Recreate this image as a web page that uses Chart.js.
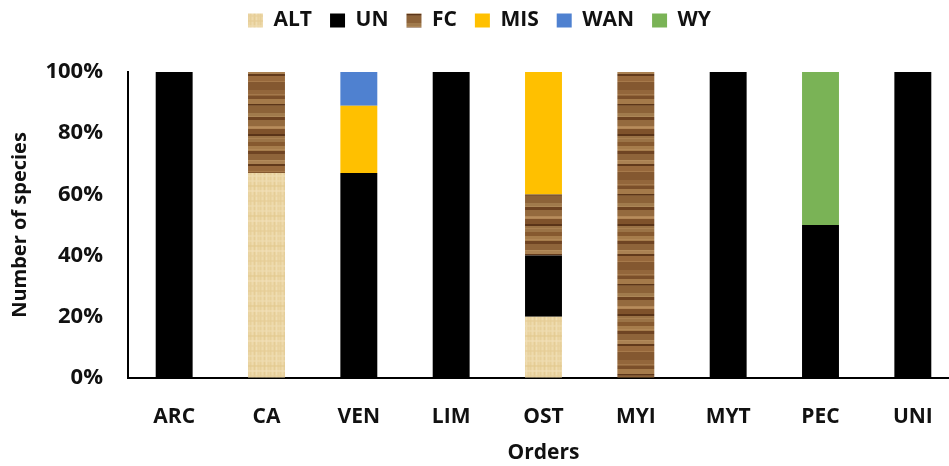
<!DOCTYPE html>
<html>
<head>
<meta charset="utf-8">
<script src="https://cdn.jsdelivr.net/npm/chart.js@4.4.1/dist/chart.umd.min.js"></script>
<style>
  html, body { margin: 0; padding: 0; background: #fff; overflow: hidden; }
  #wrap { width: 962px; height: 466px; }
</style>
</head>
<body>
<div id="wrap"><canvas id="myChart"></canvas></div>
<script>
const orders = ["ARC", "CA", "VEN", "LIM", "OST", "MYI", "MYT", "PEC", "UNI"];
const altValues = [0, 67, 0, 0, 20, 0, 0, 0, 0];
const unValues  = [100, 0, 67, 100, 20, 0, 100, 50, 100];
const fcValues  = [0, 33, 0, 0, 20, 100, 0, 0, 0];
const misValues = [0, 0, 22, 0, 40, 0, 0, 0, 0];
const wanValues = [0, 0, 11, 0, 0, 0, 0, 0, 0];
const wyValues  = [0, 0, 0, 0, 0, 0, 0, 50, 0];
const yTicks = [0, 20, 40, 60, 80, 100];

const FONT = "'Open Sans', sans-serif";
const TEXT = "#111";

// papyrus-like texture for ALT
function altPattern() {
    const c = document.createElement("canvas");
    c.width = 30; c.height = 30;
    const g = c.getContext("2d");
    g.fillStyle = "#ebd5a3";
    g.fillRect(0, 0, 30, 30);
    const cols = ["#e6cd96", "#efdcb0", "#e3c990", "#f1e0b8", "#e8d09c"];
    for (let i = 0; i < 30; i += 2) {
        g.fillStyle = cols[(i / 2) % cols.length];
        g.globalAlpha = 0.7;
        g.fillRect(i, 0, 1, 30);
    }
    for (let j = 0; j < 30; j += 5) {
        g.fillStyle = cols[(j / 5 + 1) % cols.length];
        g.globalAlpha = 0.6;
        g.fillRect(0, j, 30, 2);
    }
    g.globalAlpha = 1;
    return g.createPattern(c, "repeat");
}

// wood grain texture for FC
function fcPattern() {
    const bands = [
        ["#93663b", 6], ["#7b4f2a", 3], ["#a57a4a", 5], ["#5c3619", 2], ["#8c6238", 7],
        ["#a07a4c", 4], ["#6d4221", 3], ["#946a3e", 6], ["#b08555", 3], ["#7f522b", 5],
        ["#5a3418", 2], ["#9b7346", 6], ["#86592f", 4], ["#a67c4b", 5], ["#6f4423", 3],
        ["#8f643a", 6], ["#aa8152", 4], ["#623a1b", 2], ["#98693c", 6], ["#845830", 8]
    ];
    const h = bands.reduce((s, b) => s + b[1], 0);
    const c = document.createElement("canvas");
    c.width = 40; c.height = h;
    const g = c.getContext("2d");
    let y = 0;
    bands.forEach(b => {
        g.fillStyle = b[0];
        g.fillRect(0, y, 40, b[1]);
        y += b[1];
    });
    // faint lighter grain lines
    g.globalAlpha = 0.3;
    g.fillStyle = "#c9a170";
    for (let k = 4; k < h; k += 11) {
        g.fillRect(0, k, 40, 1);
    }
    g.globalAlpha = 1;
    return g.createPattern(c, "repeat");
}

function series(label, values, color) {
    return {
        label: label,
        data: values,
        backgroundColor: color,
        borderWidth: 0,
        categoryPercentage: 1.0,
        barPercentage: 0.4
    };
}

const chartData = {
    labels: orders,
    datasets: [
        series("ALT", altValues, altPattern()),
        series("UN", unValues, "#000000"),
        series("FC", fcValues, fcPattern()),
        series("MIS", misValues, "#ffc000"),
        series("WAN", wanValues, "#4f81d0"),
        series("WY", wyValues, "#7ab356")
    ]
};

// give the legend a fixed height so the plot starts where it does in the figure
const legendHeight = {
    id: "legendHeight",
    beforeLayout(chart) {
        const lg = chart.legend;
        if (lg && !lg._fixed) {
            const fit = lg.fit;
            lg.fit = function() {
                fit.call(this);
                this.height = 80;
            };
            lg._fixed = true;
        }
    }
};

const axisGrid = { display: true, drawOnChartArea: false, drawTicks: false, color: "rgba(0,0,0,0)" };

const ctx = document.getElementById("myChart").getContext("2d");
const chart = new Chart(ctx, {
    type: "bar",
    data: chartData,
    plugins: [legendHeight],
    options: {
        responsive: true,
        maintainAspectRatio: false,
        animation: false,
        layout: { padding: { top: -8, right: 3, left: 0, bottom: 0 } },
        plugins: {
            legend: {
                position: "top",
                labels: {
                    boxWidth: 15,
                    boxHeight: 14,
                    padding: 18,
                    color: TEXT,
                    font: { family: FONT, size: 21, weight: "bold" }
                }
            },
            tooltip: { enabled: false }
        },
        scales: {
            x: {
                stacked: true,
                afterFit: function(scale) { scale.height = 88; },
                grid: axisGrid,
                border: { display: true, color: "#000", width: 2 },
                ticks: {
                    color: TEXT,
                    padding: 26,
                    font: { family: FONT, size: 21, weight: "bold" }
                },
                title: {
                    display: true,
                    text: "Orders",
                    color: TEXT,
                    padding: { top: 0, bottom: 0 },
                    font: { family: FONT, size: 21, weight: "bold" }
                }
            },
            y: {
                stacked: true,
                min: 0,
                max: 100,
                afterFit: function(scale) { scale.width = 128; },
                afterBuildTicks: function(axis) {
                    axis.ticks = yTicks.map(v => ({ value: v }));
                },
                grid: axisGrid,
                border: { display: true, color: "#000", width: 2 },
                ticks: {
                    color: TEXT,
                    padding: 25,
                    font: { family: FONT, size: 22, weight: "bold" },
                    callback: function(v) { return v + "%"; }
                },
                title: {
                    display: true,
                    text: "Number of species",
                    color: TEXT,
                    padding: { top: 8, bottom: 0 },
                    font: { family: FONT, size: 20, weight: "bold" }
                }
            }
        }
    }
});
</script>
</body>
</html>
